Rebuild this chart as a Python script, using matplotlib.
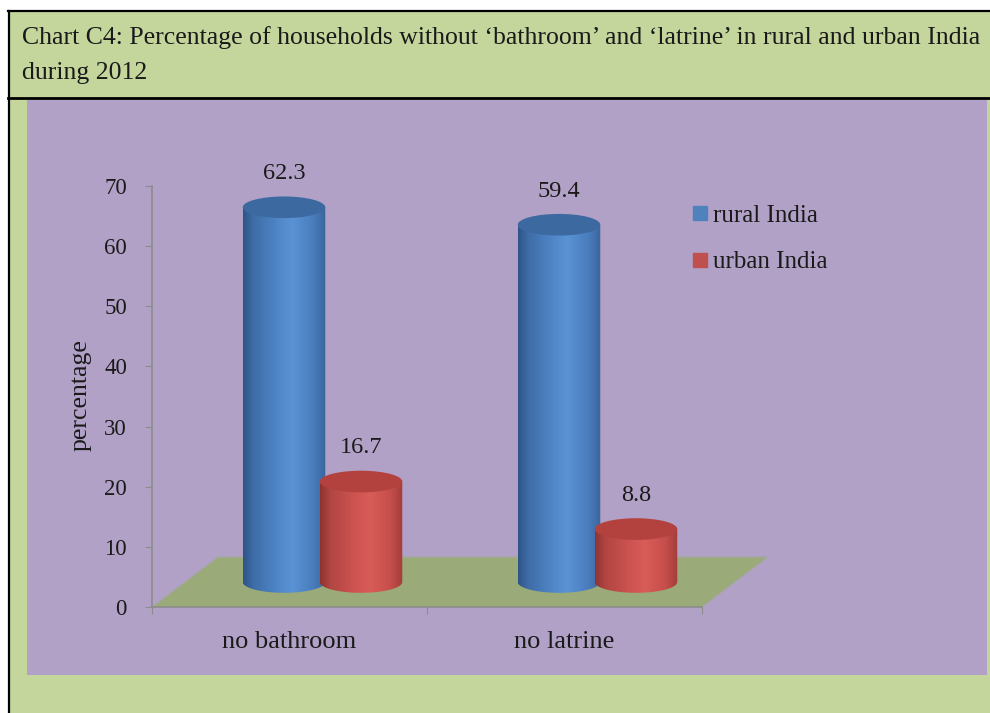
import numpy as np
import matplotlib as mpl
mpl.use('Agg')
import matplotlib.pyplot as plt
from matplotlib.patches import Rectangle, Ellipse, Polygon
from matplotlib.colors import LinearSegmentedColormap
from matplotlib.lines import Line2D

# data
categories = ['no bathroom', 'no latrine']
series = ['rural India', 'urban India']
rural = [62.3, 59.4]
urban = [16.7, 8.8]
yticks = [0, 10, 20, 30, 40, 50, 60, 70]
title_lines = ['Chart C4: Percentage of households without \u2018bathroom\u2019 and '
               '\u2018latrine\u2019 in rural and urban India',
               'during 2012']

W, H = 990, 713
plt.rcParams['font.family'] = ['Liberation Serif', 'DejaVu Serif']
txt = '#1a1a1a'

fig = plt.figure(figsize=(W / 100, H / 100), dpi=100, facecolor='white')

# background frame drawn in pixel coords
bg = fig.add_axes([0, 0, 1, 1])
bg.set_xlim(0, W)
bg.set_ylim(H, 0)
bg.axis('off')
bg.add_patch(Rectangle((9, 11), W, H, fc='#c4d69c', ec='none'))
bg.add_patch(Rectangle((27, 99.5), 960, 575.5, fc='#b2a1c7', ec='none'))
bg.plot([9, 9], [11, H], color='black', lw=1.6)
bg.plot([8, W], [11, 11], color='black', lw=1.6)
bg.plot([8, W], [98, 98], color='black', lw=2.0)
for i, line in enumerate(title_lines):
    bg.text(22, 38 + 35 * i, line, fontsize=18.5, va='center', ha='left', color=txt)


def px(x0, y0, x1, y1):
    return [x0 / W, 1 - y1 / H, (x1 - x0) / W, (y1 - y0) / H]


ax = fig.add_axes(px(152, 186, 702, 607))
ax.patch.set_alpha(0)

# 3d depth offsets (half floor depth) in data units
dx, dy = 0.12, 4.16
bw, eh, off = 0.30, 3.6, 0.14

floor = Polygon([(-0.5, 0), (1.5, 0), (1.5 + 2 * dx, 2 * dy), (-0.5 + 2 * dx, 2 * dy)],
                closed=True, fc='#9aaa78', ec='#a6a6a6', lw=1, zorder=1, clip_on=False)
ax.add_patch(floor)

blue_cm = LinearSegmentedColormap.from_list('b', [
    (0, '#2d5486'), (0.12, '#3e6ca6'), (0.45, '#5189cb'), (0.6, '#5a92d4'),
    (0.85, '#4a7dbd'), (1, '#3a659c')])
red_cm = LinearSegmentedColormap.from_list('r', [
    (0, '#8e3331'), (0.12, '#b04542'), (0.45, '#d05552'), (0.6, '#d85d59'),
    (0.85, '#c64e4b'), (1, '#a23d3b')])


def cylinder(xc, base, value, cmap, topcol, z):
    top = base + value
    t = np.linspace(np.pi, 2 * np.pi, 80)
    pts = list(zip(xc + bw / 2 * np.cos(t), base + eh / 2 * np.sin(t)))
    pts += [(xc + bw / 2, top), (xc - bw / 2, top)]
    body = Polygon(pts, closed=True, fc='none', ec='none', zorder=z)
    ax.add_patch(body)
    grad = np.linspace(0, 1, 256).reshape(1, -1)
    im = ax.imshow(grad, cmap=cmap, extent=(xc - bw / 2, xc + bw / 2, base - eh / 2, top),
                   aspect='auto', interpolation='bilinear', origin='lower', zorder=z)
    im.set_clip_path(body)
    ax.add_patch(Ellipse((xc, top), bw, eh, fc=topcol, ec='none', zorder=z + 0.1))
    ax.text(xc, top + 5.6, f'{value}', ha='center', va='center', fontsize=17.5,
            color=txt, zorder=10)


z = 2
for i in range(len(categories)):
    cylinder(i + dx - off, dy, rural[i], blue_cm, '#3d69a1', z)
    cylinder(i + dx + off, dy, urban[i], red_cm, '#b3423f', z + 1)
    z += 2

ax.set_xlim(-0.5, 1.5)
ax.set_ylim(0, 70)
for s in ['top', 'right']:
    ax.spines[s].set_visible(False)
for s in ['left', 'bottom']:
    ax.spines[s].set_color('#8c8c8c')
    ax.spines[s].set_linewidth(1.2)
ax.set_yticks(yticks)
ax.set_yticklabels([str(v) for v in yticks])
ax.tick_params(axis='y', length=5, color='#8c8c8c', pad=13, labelsize=16.5, labelcolor=txt)
ax.set_xticks([-0.5, 0.5, 1.5])
ax.set_xticklabels([])
ax.set_xticks(range(len(categories)), minor=True)
ax.set_xticklabels(categories, minor=True)
ax.tick_params(axis='x', which='major', length=5, color='#8c8c8c')
ax.tick_params(axis='x', which='minor', length=0, pad=17, labelsize=19, labelcolor=txt)
ax.set_ylabel('percentage', fontsize=18.5, color=txt)
ax.yaxis.set_label_coords(-0.11, 0.5036)

handles = [Line2D([], [], marker='s', ls='', color=c, markersize=9.5)
           for c in ['#4f81bd', '#c0504d']]
ax.legend(handles, series, loc='upper left', bbox_to_anchor=(690 / W, 1 - 204 / H),
          bbox_transform=fig.transFigure, frameon=False, fontsize=18, borderpad=0,
          borderaxespad=0, handlelength=0.8, handletextpad=0.12, labelspacing=0.98,
          labelcolor=txt)

fig.savefig('out.png', dpi=100, facecolor=fig.get_facecolor())
